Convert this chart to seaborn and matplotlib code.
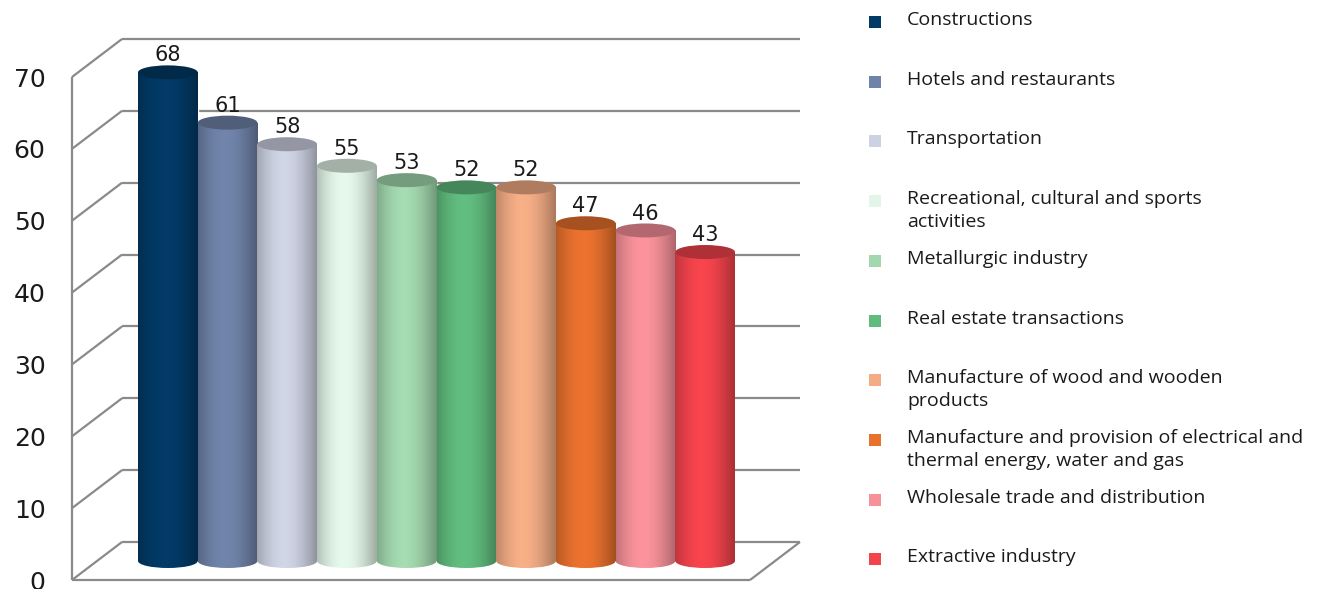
import numpy as np
import matplotlib
matplotlib.use("Agg")
import matplotlib.pyplot as plt
import matplotlib.colors as mcolors
from matplotlib.patches import Ellipse, Rectangle
import seaborn as sns

# ---------------- data ----------------
categories = [
    "Constructions",
    "Hotels and restaurants",
    "Transportation",
    "Recreational, cultural and sports\nactivities",
    "Metallurgic industry",
    "Real estate transactions",
    "Manufacture of wood and wooden\nproducts",
    "Manufacture and provision of electrical and\nthermal energy, water and gas",
    "Wholesale trade and distribution",
    "Extractive industry",
]
values = [68, 61, 58, 55, 53, 52, 52, 47, 46, 43]
colors = ["#023a66", "#6f82a8", "#cdd2e2", "#e2f5e8", "#a3d8ae",
          "#60bb7e", "#f3ac84", "#e8712e", "#f79199", "#f3434c"]
yticks = [0, 10, 20, 30, 40, 50, 60, 70]

# ---------------- style ----------------
sns.set_style("white")
plt.rcParams["font.family"] = ["DejaVu Sans"]
TXT = "#1a1a1a"
GRID = "#8a8a8a"

W, H, DPI = 1321, 589, 100
fig = plt.figure(figsize=(W / DPI, H / DPI), dpi=DPI)

k = 503 / 70.0            # pixels per unit
front_left, front_right, front_base = 72, 750, 580
bar_left, bar_right, bar_base = 138, 735, 561
back_dx, back_dy = 50, 38

# front frame axes (0..70)
ax_f = fig.add_axes([front_left / W, (H - front_base) / H,
                     (front_right - front_left) / W, 70 * k / H])
ax_f.set_xlim(0, 1)
ax_f.set_ylim(0, 70)
ax_f.set_facecolor("none")
for s in ax_f.spines.values():
    s.set_visible(False)
ax_f.set_xticks([])
ax_f.set_yticks(yticks)
ax_f.tick_params(axis="y", length=0, pad=19, labelsize=18, labelcolor=TXT)

dxd = back_dx / (front_right - front_left)
dyd = back_dy / k
lk = dict(color=GRID, lw=1.6, clip_on=False, solid_capstyle="butt")
ax_f.plot([0, 0], [0, 70], **lk)
ax_f.plot([0, 1], [0, 0], **lk)
ax_f.plot([1, 1 + dxd], [0, dyd], **lk)
for v in yticks:
    ax_f.plot([dxd, 1 + dxd], [v + dyd, v + dyd], **lk)
    ax_f.plot([0, dxd], [v, v + dyd], **lk)

# bar plane axes
ylo, yhi = -3, 75
ax_b = fig.add_axes([bar_left / W, (H - bar_base - (-ylo) * k) / H,
                     (bar_right - bar_left) / W, (yhi - ylo) * k / H])
ax_b.set_facecolor("none")
sns.barplot(x=list(range(len(values))), y=values, hue=list(range(len(values))),
            palette=colors, width=1.0, dodge=False, legend=False,
            saturation=1, ax=ax_b)
ax_b.set_xlim(-0.5, len(values) - 0.5)
ax_b.set_ylim(ylo, yhi)
ax_b.axis("off")

t = np.linspace(0, 1, 300)
shade = 0.70 + 0.32 * np.cos(np.pi * (t - 0.45) / 1.1)
eh = 14 / k
for cont in ax_b.containers:
    for bar in cont:
        col = np.array(mcolors.to_rgb(bar.get_facecolor()))
        x0, w, h = bar.get_x(), bar.get_width(), bar.get_height()
        img = np.clip(col[None, None, :] * shade[None, :, None], 0, 1)
        im = ax_b.imshow(img, extent=(x0, x0 + w, ylo, h), aspect="auto",
                         zorder=2, interpolation="bilinear")
        im.set_clip_path(bar)
        base = Ellipse((x0 + w / 2, 0), w, eh, transform=ax_b.transData,
                       facecolor="none", edgecolor="none")
        ax_b.add_patch(base)
        im2 = ax_b.imshow(img, extent=(x0, x0 + w, ylo, h), aspect="auto",
                          zorder=2, interpolation="bilinear")
        im2.set_clip_path(base)
        top = Ellipse((x0 + w / 2, h), w, eh, facecolor=col * 0.72,
                      edgecolor="none", zorder=3)
        ax_b.add_patch(top)
    ax_b.bar_label(cont, labels=[f"{v:g}" for v in cont.datavalues],
                   padding=5, fontsize=15, color=TXT)
ax_b.set_xlim(-0.5, len(values) - 0.5)
ax_b.set_ylim(ylo, yhi)

# legend (manual)
sq_x, txt_x, sq_y0, step = 875, 907, 22, 59.7
for i, (lab, col) in enumerate(zip(categories, colors)):
    yc = sq_y0 + i * step
    fig.patches.append(Rectangle(((sq_x - 6) / W, (H - yc - 6) / H), 12 / W, 12 / H,
                                 transform=fig.transFigure, facecolor=col,
                                 edgecolor="none"))
    fig.text(txt_x / W, (H - (yc - 11)) / H, lab, fontsize=14, color=TXT,
             family=["Open Sans", "DejaVu Sans"],
             ha="left", va="top", linespacing=1.35)

fig.savefig("out.png", dpi=DPI)
